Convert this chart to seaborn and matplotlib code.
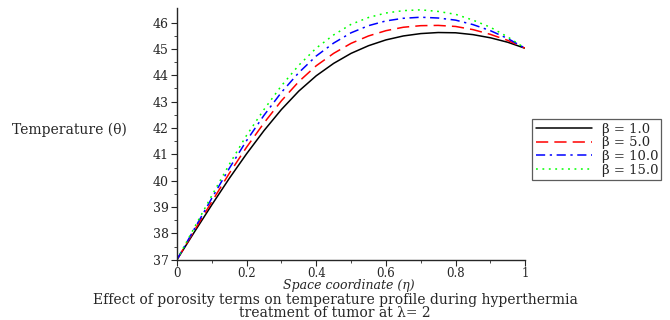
"""Temperature profile vs space coordinate for several porosity values (beta)."""
import matplotlib

matplotlib.use("Agg")
import matplotlib.pyplot as plt
import numpy as np
import pandas as pd
import seaborn as sns

# Space coordinate (eta)
eta = [0.0, 0.05, 0.1, 0.15, 0.2, 0.25, 0.3, 0.35, 0.4, 0.45, 0.5,
       0.55, 0.6, 0.65, 0.7, 0.75, 0.8, 0.85, 0.9, 0.95, 1.0]

# Temperature (theta) for each beta
temp_b1 = [37.0, 38.05, 39.08, 40.08, 41.02, 41.9, 42.7, 43.4, 43.98, 44.45, 44.83,
           45.12, 45.34, 45.49, 45.58, 45.62, 45.61, 45.54, 45.42, 45.25, 45.02]
temp_b5 = [37.0, 38.11, 39.2, 40.27, 41.27, 42.19, 43.03, 43.76, 44.36, 44.83, 45.21,
           45.49, 45.69, 45.82, 45.88, 45.89, 45.85, 45.73, 45.55, 45.32, 45.02]
temp_b10 = [37.0, 38.17, 39.33, 40.46, 41.52, 42.48, 43.35, 44.1, 44.73, 45.22, 45.61,
            45.88, 46.06, 46.16, 46.2, 46.17, 46.09, 45.92, 45.69, 45.39, 45.02]
temp_b15 = [37.0, 38.22, 39.43, 40.61, 41.72, 42.7, 43.6, 44.38, 45.03, 45.53, 45.93,
            46.19, 46.36, 46.45, 46.48, 46.42, 46.31, 46.09, 45.82, 45.45, 45.02]

labels = ["β = 1.0", "β = 5.0", "β = 10.0", "β = 15.0"]
xtick_vals = [0, 0.2, 0.4, 0.6, 0.8, 1.0]
xtick_labels = ["0", "0.2", "0.4", "0.6", "0.8", "1"]
ytick_vals = [37, 38, 39, 40, 41, 42, 43, 44, 45, 46]

df = pd.concat([
    pd.DataFrame({"eta": eta, "theta": t, "beta": lab})
    for t, lab in zip([temp_b1, temp_b5, temp_b10, temp_b15], labels)
])

sns.set_style("ticks")
plt.rcParams["font.family"] = ["DejaVu Serif"]

palette = dict(zip(labels, ["#000000", "#ff0000", "#0000ff", "#00ff00"]))
dashes = dict(zip(labels, ["", (8, 4), (6, 3, 1.5, 3), (1.2, 3)]))

fig = plt.figure(figsize=(6.7, 3.2), dpi=100)
ax = fig.add_axes([0.264, 0.188, 0.52, 0.787])
sns.lineplot(data=df, x="eta", y="theta", hue="beta", style="beta",
             palette=palette, dashes=dashes, linewidth=1.1, ax=ax,
             legend=True)

ax.set_xlim(0, 1)
ax.set_ylim(37, 46.55)
ax.set_xticks(xtick_vals)
ax.set_xticklabels(xtick_labels)
ax.set_yticks(ytick_vals)
ax.set_xticks(np.arange(0.1, 1.0, 0.2), minor=True)
ax.set_yticks(np.arange(37.5, 46.4, 1.0), minor=True)
ax.tick_params(axis="both", which="major", length=4, width=0.8, labelsize=9, pad=2)
ax.tick_params(axis="x", which="major", labelsize=8.5, pad=1)
ax.tick_params(axis="both", which="minor", length=2, width=0.6)
for s in ["top", "right"]:
    ax.spines[s].set_visible(False)
for s in ["left", "bottom"]:
    ax.spines[s].set_linewidth(1.0)

ax.set_xlabel("")
ax.set_ylabel("")
fig.text(0.521, 0.109, "Space coordinate (η)", style="italic", fontsize=9,
         ha="center", va="center")
fig.text(0.018, 0.595, "Temperature (θ)", fontsize=10, ha="left", va="center")
fig.text(0.5, 0.042,
         "Effect of porosity terms on temperature profile during hyperthermia\n"
         "treatment of tumor at λ= 2",
         fontsize=10, ha="center", va="center", linespacing=0.95)

leg = ax.legend(loc="upper left", bbox_to_anchor=(1.02, 0.558), frameon=True,
                fancybox=False, edgecolor="#333333", fontsize=9.5,
                handlelength=4.3, borderpad=0.25, labelspacing=0.05,
                handletextpad=0.7, borderaxespad=0)
leg.get_frame().set_linewidth(0.9)
for line in leg.get_lines():
    line.set_linewidth(1.1)

plt.savefig("out.png", dpi=100)
plt.close()
